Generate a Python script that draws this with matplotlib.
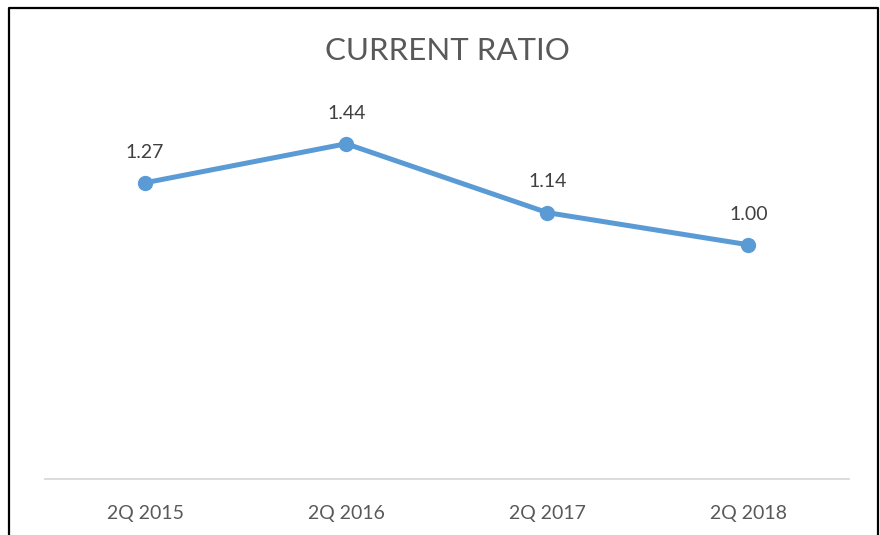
import matplotlib
matplotlib.use("Agg")
from matplotlib import pyplot as plt
from matplotlib.lines import Line2D

# ---------------- data ----------------
quarters = ["2Q 2015", "2Q 2016", "2Q 2017", "2Q 2018"]
current_ratio = [1.27, 1.44, 1.14, 1.00]
value_labels = ["1.27", "1.44", "1.14", "1.00"]

plt.rcParams["font.family"] = ["Lato", "DejaVu Sans"]

fig = plt.figure(figsize=(8.8, 5.35), dpi=100)
ax = fig.add_axes([44.5 / 880, 56 / 535, 804.5 / 880, 372 / 535])

x = [i + 0.5 for i in range(len(quarters))]
ax.plot(x, current_ratio, color="#5B9BD5", linewidth=3.6, marker="o",
        markersize=10, solid_capstyle="round", zorder=3)

for xi, yi, lab in zip(x, current_ratio, value_labels):
    ax.annotate(lab, (xi, yi), xytext=(0, 16), textcoords="offset points",
                ha="center", va="bottom", fontsize=14, color="#404040")

ax.set_xlim(0, len(quarters))
ax.set_ylim(-0.02, 1.6)
ax.set_xticks(x)
ax.set_xticklabels(quarters, fontsize=14, color="#595959")
ax.tick_params(axis="x", length=0, pad=19)
ax.set_yticks([])
for side in ["left", "right", "top"]:
    ax.spines[side].set_visible(False)
ax.spines["bottom"].set_color("#D9D9D9")
ax.spines["bottom"].set_linewidth(1.3)

fig.text(447 / 880, 1 - 51 / 535, "CURRENT RATIO", ha="center", va="center",
         fontsize=22.5, color="#595959")

# outer chart border (left, top, right)
border = Line2D([8.5 / 880, 8.5 / 880, 878 / 880, 878 / 880],
                [0, 1 - 7.5 / 535, 1 - 7.5 / 535, 0],
                transform=fig.transFigure, color="black", linewidth=1.6)
fig.add_artist(border)

plt.savefig("out.png", dpi=100)
